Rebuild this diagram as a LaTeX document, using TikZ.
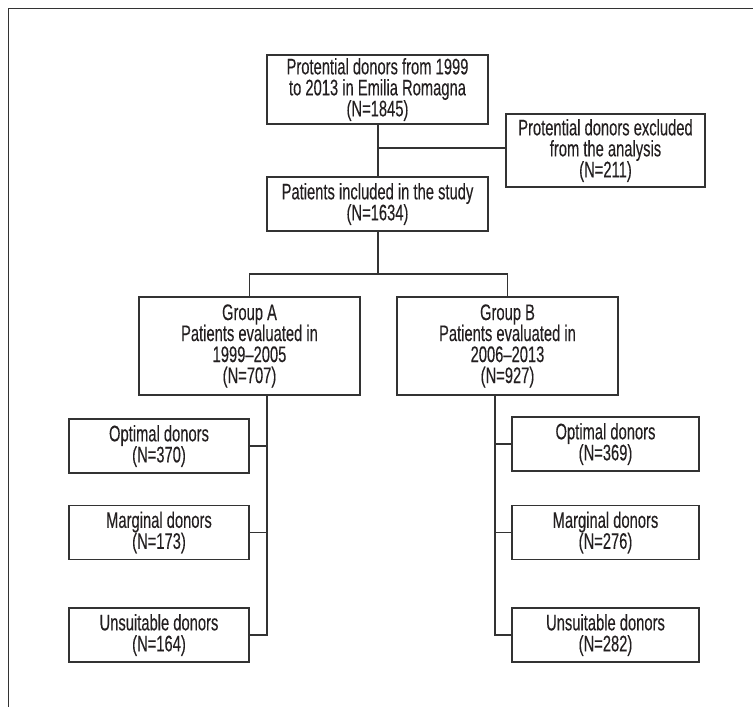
\documentclass[tikz,border=0pt]{standalone}
\usepackage{fontspec}
\setmainfont{Liberation Sans}[FakeStretch=0.655,FakeBold=0.2]
\definecolor{ink}{HTML}{231F20}
\definecolor{linec}{HTML}{333333}
\begin{document}
\begin{tikzpicture}[x=1pt,y=-1pt,
  box/.style={draw=linec, line width=1.3pt, rectangle, inner sep=0pt, outer sep=0pt,
    align=center, text=ink, font=\fontsize{22.5}{21}\selectfont},
  conn/.style={draw=linec, line width=1.3pt}]
\useasboundingbox (0,0) rectangle (753,707);
\draw[linec, line width=1pt] (8,707) -- (8,8) -- (753,8);

\node[box, minimum width=221pt, minimum height=69pt] (top) at (377.5,89.5)
  {Protential donors from 1999\\to 2013 in Emilia Romagna\\(N=1845)};
\node[box, minimum width=199pt, minimum height=73pt] (excl) at (605.5,150.5)
  {Protential donors excluded\\from the analysis\\(N=211)};
\node[box, minimum width=221pt, minimum height=54pt] (incl) at (377.5,204)
  {Patients included in the study\\(N=1634)};
\node[box, minimum width=221pt, minimum height=98pt] (grpA) at (249.5,346)
  {Group A\\Patients evaluated in\\1999--2005\\(N=707)};
\node[box, minimum width=221pt, minimum height=98pt] (grpB) at (507.5,346)
  {Group B\\Patients evaluated in\\2006--2013\\(N=927)};
\node[box, minimum width=180pt, minimum height=54pt] (optA) at (159,446)
  {Optimal donors\\(N=370)};
\node[box, minimum width=180pt, minimum height=54pt] (margA) at (159,532.5)
  {Marginal donors\\(N=173)};
\node[box, minimum width=180pt, minimum height=54pt] (unsA) at (159,635)
  {Unsuitable donors\\(N=164)};
\node[box, minimum width=187pt, minimum height=54pt] (optB) at (605.5,444)
  {Optimal donors\\(N=369)};
\node[box, minimum width=187pt, minimum height=54pt] (margB) at (605.5,532.5)
  {Marginal donors\\(N=276)};
\node[box, minimum width=187pt, minimum height=54pt] (unsB) at (605.5,635)
  {Unsuitable donors\\(N=282)};

\coordinate (j1) at (378,148);
\coordinate (j2) at (378,274);
\coordinate (sA) at (267,395);
\coordinate (sB) at (495,395);

\draw[conn] (top.south -| j1) -- (incl.north -| j1);
\draw[conn] (j1) -- (excl.west |- j1);
\draw[conn] (incl.south -| j2) -- (j2);
\draw[conn] (grpA.north) -- (grpA.north |- j2) -- (grpB.north |- j2) -- (grpB.north);

\draw[conn] (sA) -- (sA |- unsA.east) -- (unsA.east);
\draw[conn] (optA.east) -- (optA.east -| sA);
\draw[conn] (margA.east) -- (margA.east -| sA);

\draw[conn] (sB) -- (sB |- unsB.west) -- (unsB.west);
\draw[conn] (optB.west) -- (optB.west -| sB);
\draw[conn] (margB.west) -- (margB.west -| sB);
\end{tikzpicture}
\end{document}
